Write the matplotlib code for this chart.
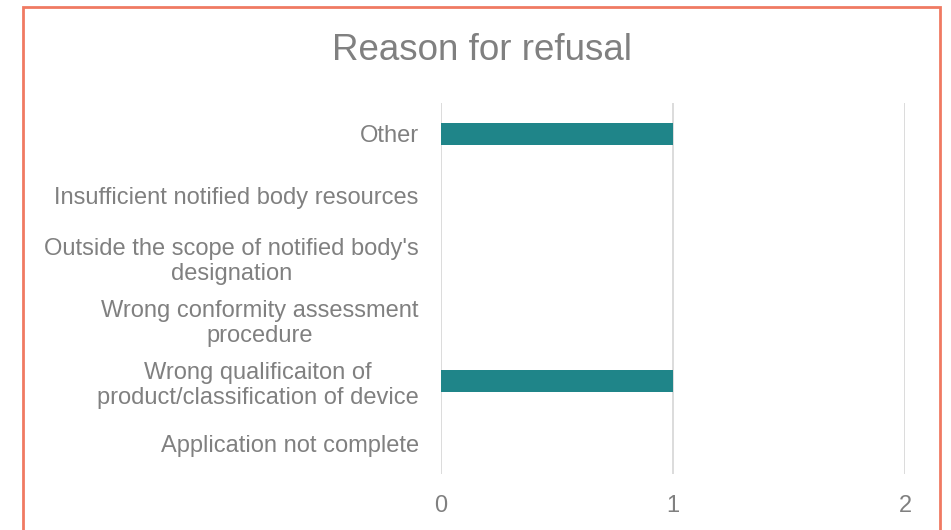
import matplotlib.pyplot as plt
from matplotlib.patches import Rectangle

# data, bottom to top as drawn
categories = ['Application not complete',
              'Wrong qualificaiton of\nproduct/classification of device',
              'Wrong conformity assessment\nprocedure',
              "Outside the scope of notified body's\ndesignation",
              'Insufficient notified body resources',
              'Other']
counts = [0, 1, 0, 0, 0, 1]
xticks = [0, 1, 2]

plt.rcParams['font.family'] = ['Liberation Sans', 'DejaVu Sans']
grey = '#808080'

fig = plt.figure(figsize=(9.51, 5.3), dpi=100)
ax = fig.add_axes([441 / 951, 1 - 474 / 530, (905 - 441) / 951, (474 - 103) / 530])

ax.barh(range(len(categories)), counts, height=0.36, color='#1F8589', zorder=3)

ax.set_xlim(0, 2)
ax.set_ylim(-0.5, len(categories) - 0.5)
ax.set_xticks(xticks)
ax.set_yticks(range(len(categories)))
ax.set_yticklabels(categories, ha='right', multialignment='center')
ax.tick_params(axis='y', length=0, pad=16, labelsize=17, labelcolor=grey)
ax.tick_params(axis='x', length=0, pad=15, labelsize=17, labelcolor=grey)
ax.grid(axis='x', color='#D9D9D9', linewidth=1.3, zorder=0)
for s in ax.spines.values():
    s.set_visible(False)

fig.text(482 / 951, 1 - 50 / 530, 'Reason for refusal', ha='center', va='center',
         fontsize=26.5, color=grey)

# chart border
fig.patches.append(Rectangle((23 / 951, -0.05), (940 - 23) / 951, 1.05 - 7 / 530,
                             transform=fig.transFigure, fill=False,
                             edgecolor='#F07A62', linewidth=2))

fig.savefig('out.png', dpi=100)
